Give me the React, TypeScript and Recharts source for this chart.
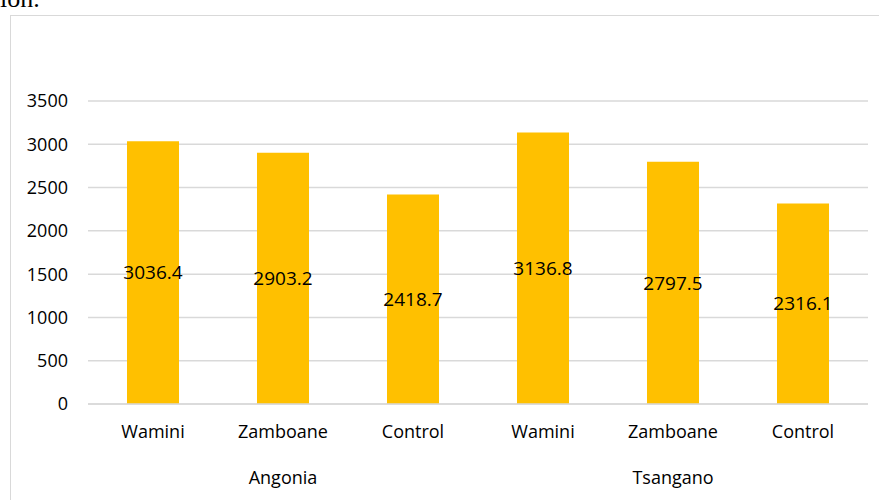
import React from "react"
import { Bar, BarChart, CartesianGrid, LabelList, XAxis, YAxis } from "recharts"

const categories = ["Wamini", "Zamboane", "Control", "Wamini", "Zamboane", "Control"]
const groups = ["Angonia", "Angonia", "Angonia", "Tsangano", "Tsangano", "Tsangano"]
const yields = [3036.4, 2903.2, 2418.7, 3136.8, 2797.5, 2316.1]
const yTicks = [0, 500, 1000, 1500, 2000, 2500, 3000, 3500]

const data = categories.map((name, i) => ({ key: `${groups[i]}-${name}`, name, group: groups[i], value: yields[i] }))

const FONT = "'Open Sans', sans-serif"

// category label plus the group label under the middle bar of each group
function TwoLevelTick(props: any) {
  const { x, y, index } = props
  const row = data[index]
  return (
    <g>
      <text x={x} y={y + 13} dy="0.71em" textAnchor="middle" fill="#000" fontSize={18} fontFamily={FONT}>
        {row.name}
      </text>
      {index % 3 === 1 && (
        <text x={x} y={y + 59} dy="0.71em" textAnchor="middle" fill="#000" fontSize={18} fontFamily={FONT}>
          {row.group}
        </text>
      )}
    </g>
  )
}

export default function App(): React.JSX.Element {
  return (
    <div style={{ position: "fixed", left: 0, top: 0, width: 879, height: 500, overflow: "hidden", background: "#fff" }}>
      <div
        style={{
          position: "absolute",
          left: 0,
          top: -12,
          fontFamily: "'Liberation Serif', serif",
          fontSize: 26,
          color: "#000",
          lineHeight: "22px",
        }}
      >
        ion.
      </div>
      <div
        style={{
          position: "absolute",
          left: 10,
          top: 15,
          width: 920,
          height: 540,
          border: "1px solid #d9d9d9",
        }}
      />
      <div style={{ position: "absolute", left: 0, top: 0 }}>
        <BarChart
          width={879}
          height={500}
          data={data}
          margin={{ top: 101, right: 11, left: 8, bottom: 6 }}
          barCategoryGap="30%"
        >
          <CartesianGrid vertical={false} stroke="#d9d9d9" strokeWidth={1.5} />
          <XAxis
            dataKey="key"
            height={90}
            axisLine={{ stroke: "#d9d9d9", strokeWidth: 1.5 }}
            tickLine={false}
            interval={0}
            tick={<TwoLevelTick />}
          />
          <YAxis
            domain={[0, 3500]}
            ticks={yTicks}
            width={80}
            axisLine={false}
            tickLine={false}
            tickMargin={14}
            tick={{ fill: "#000", fontSize: 18, fontFamily: FONT }}
          />
          <Bar dataKey="value" fill="#FFC000" isAnimationActive={false}>
            <LabelList
              dataKey="value"
              position="center"
              fill="#000"
              fontSize={19}
              fontFamily={FONT}
              formatter={(v: any) => Number(v).toFixed(1)}
            />
          </Bar>
        </BarChart>
      </div>
    </div>
  )
}
